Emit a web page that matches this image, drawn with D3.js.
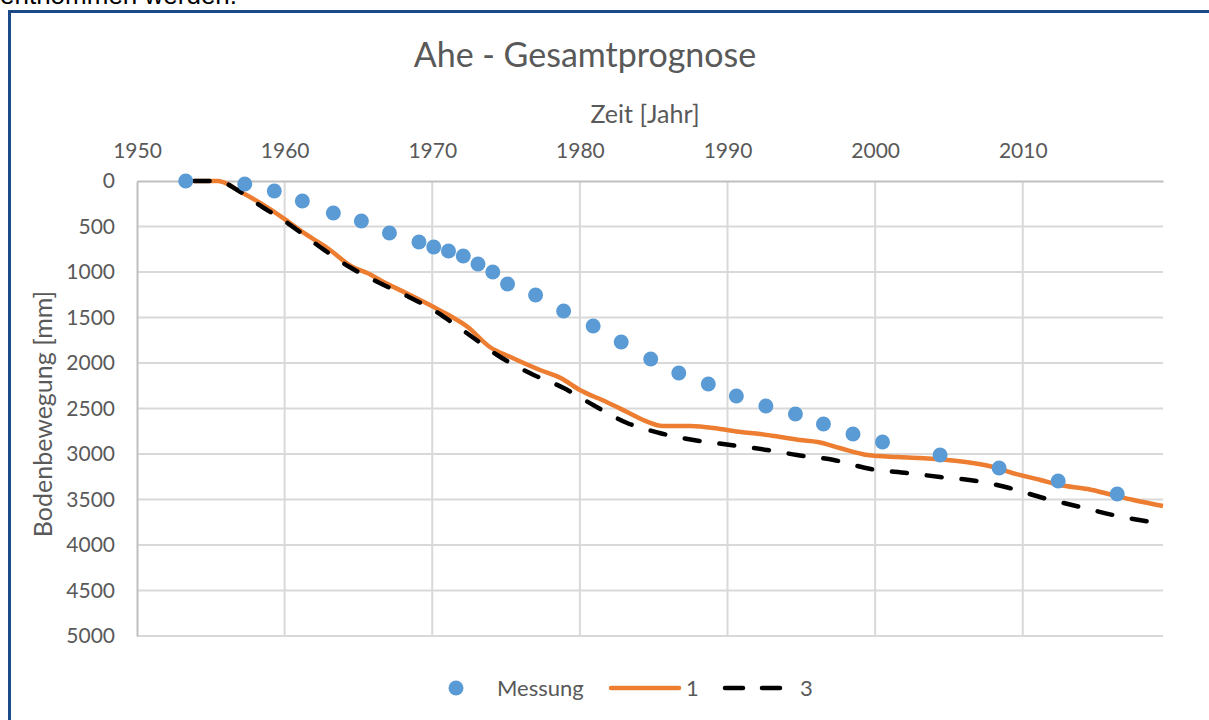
<!DOCTYPE html>
<html>
<head>
<meta charset="utf-8">
<script src="https://cdn.jsdelivr.net/npm/d3@7"></script>
<style>
  body { margin: 0; background: #fff; }
  svg { display: block; }
</style>
</head>
<body>
<svg id="chart" width="1209" height="720"></svg>
<script>
// Messung (measured points): year, settlement in mm
var messYears = [1953.3, 1957.3, 1959.3, 1961.2, 1963.3, 1965.2, 1967.1, 1969.1, 1970.1, 1971.1,
  1972.1, 1973.1, 1974.1, 1975.1, 1977.0, 1978.9, 1980.9, 1982.8, 1984.8, 1986.7,
  1988.7, 1990.6, 1992.6, 1994.6, 1996.5, 1998.5, 2000.5, 2004.4, 2008.4, 2012.4, 2016.4];
var messValues = [0, 33, 110, 220, 352, 440, 571, 670, 725, 769,
  824, 912, 1000, 1132, 1253, 1429, 1593, 1769, 1956, 2110,
  2231, 2363, 2473, 2560, 2670, 2780, 2868, 3011, 3154, 3297, 3440];

// Prognose 1 (orange)
var prog1Years = [1953.3, 1955.5, 1957.0, 1958.8, 1960.0, 1961.2, 1962.9, 1964.6, 1965.6, 1966.7,
  1968.5, 1970.1, 1971.1, 1972.4, 1973.9, 1975.3, 1977.3, 1978.7, 1980.0, 1981.8,
  1983.2, 1984.6, 1985.6, 1987.5, 1989.5, 1990.9, 1992.2, 1993.6, 1994.9, 1996.1,
  1997.6, 1999.5, 2001.5, 2003.0, 2004.9, 2006.6, 2008.0, 2009.3, 2011.2, 2012.5,
  2014.4, 2016.1, 2017.5, 2019.5];
var prog1Values = [0, 0, 118, 286, 418, 560, 736, 945, 1011, 1110,
  1253, 1385, 1472, 1604, 1824, 1934, 2077, 2165, 2297, 2428,
  2538, 2648, 2692, 2692, 2725, 2758, 2780, 2813, 2846, 2868,
  2934, 3011, 3033, 3044, 3066, 3099, 3143, 3209, 3286, 3341,
  3385, 3451, 3506, 3571];

// Prognose 3 (black dashed)
var prog3Years = [1953.9, 1955.5, 1956.8, 1958.3, 1960.2, 1962.4, 1964.4, 1966.3, 1968.3, 1970.3,
  1971.0, 1972.8, 1974.4, 1976.6, 1978.9, 1980.9, 1983.2, 1985.4, 1987.7, 1990.2,
  1992.7, 1994.7, 1997.2, 1999.7, 2002.2, 2004.4, 2006.9, 2009.1, 2011.4, 2013.9,
  2016.1, 2019.1, 2019.5];
var prog3Values = [0, 0, 99, 264, 462, 725, 945, 1110, 1264, 1440,
  1516, 1725, 1912, 2110, 2275, 2462, 2659, 2769, 2846, 2901,
  2956, 3011, 3066, 3165, 3209, 3253, 3297, 3374, 3484, 3582,
  3670, 3758, 3769];

var xTicks = [1950, 1960, 1970, 1980, 1990, 2000, 2010];
var yTicks = [0, 500, 1000, 1500, 2000, 2500, 3000, 3500, 4000, 4500, 5000];
var legendLabels = ['Messung', '1', '3'];

var font = 'Lato, "Open Sans", sans-serif';
var textColor = '#595959';

var svg = d3.select('#chart');

// cut-off text from the document above the chart frame
svg.append('text')
    .attr('x', 0)
    .attr('y', 4)
    .attr('font-family', 'Arial, "Liberation Sans", sans-serif')
    .attr('font-size', 26)
    .attr('fill', '#000')
    .text('entnommen werden.');

// blue frame
svg.append('path')
    .attr('d', 'M9.5,720 V11.5 H1209')
    .attr('fill', 'none')
    .attr('stroke', '#1c4a88')
    .attr('stroke-width', 3);

var x = d3.scaleLinear().domain([1950, 2019.5]).range([137, 1163]);
var y = d3.scaleLinear().domain([0, 5000]).range([181, 636]);

// gridlines
svg.append('g')
    .selectAll('line')
    .data(yTicks.slice(1))
    .enter()
    .append('line')
    .attr('x1', x(1950))
    .attr('x2', x(2019.5))
    .attr('y1', d => y(d))
    .attr('y2', d => y(d))
    .attr('stroke', '#d9d9d9')
    .attr('stroke-width', 2);

svg.append('g')
    .selectAll('line')
    .data(xTicks.slice(1))
    .enter()
    .append('line')
    .attr('x1', d => x(d))
    .attr('x2', d => x(d))
    .attr('y1', y(0))
    .attr('y2', y(5000))
    .attr('stroke', '#d9d9d9')
    .attr('stroke-width', 2);

// axes (top x axis, reversed y axis on the left)
var xAxis = svg.append('g')
    .attr('transform', 'translate(0,' + y(0) + ')')
    .call(d3.axisTop(x).tickValues(xTicks).tickFormat(d3.format('d')).tickSize(0).tickPadding(23));
var yAxis = svg.append('g')
    .attr('transform', 'translate(' + x(1950) + ',0)')
    .call(d3.axisLeft(y).tickValues(yTicks).tickFormat(d3.format('d')).tickSize(0).tickPadding(22));

[xAxis, yAxis].forEach(function(a) {
    a.select('.domain').attr('stroke', '#bfbfbf').attr('stroke-width', 2);
    a.selectAll('text')
        .attr('font-family', font)
        .attr('font-size', 21)
        .attr('fill', textColor);
});

// lines
var line = d3.line()
    .x(d => x(d[0]))
    .y(d => y(d[1]))
    .curve(d3.curveMonotoneX);

svg.append('path')
    .datum(d3.zip(prog1Years, prog1Values))
    .attr('fill', 'none')
    .attr('stroke', '#ed7d31')
    .attr('stroke-width', 4.5)
    .attr('stroke-linejoin', 'round')
    .attr('d', line);

svg.append('path')
    .datum(d3.zip(prog3Years, prog3Values))
    .attr('fill', 'none')
    .attr('stroke', '#000')
    .attr('stroke-width', 4.5)
    .attr('stroke-linecap', 'round')
    .attr('stroke-dasharray', '15,20')
    .attr('d', line);

// measured points
svg.append('g')
    .selectAll('circle')
    .data(d3.zip(messYears, messValues))
    .enter()
    .append('circle')
    .attr('cx', d => x(d[0]))
    .attr('cy', d => y(d[1]))
    .attr('r', 7.5)
    .attr('fill', '#5b9bd5');

// titles
svg.append('text')
    .attr('x', 585)
    .attr('y', 67)
    .attr('text-anchor', 'middle')
    .attr('font-family', font)
    .attr('font-size', 34)
    .attr('fill', textColor)
    .text('Ahe - Gesamtprognose');

svg.append('text')
    .attr('x', 645)
    .attr('y', 123)
    .attr('text-anchor', 'middle')
    .attr('font-family', font)
    .attr('font-size', 25)
    .attr('fill', textColor)
    .text('Zeit [Jahr]');

svg.append('text')
    .attr('transform', 'translate(52,414) rotate(-90)')
    .attr('text-anchor', 'middle')
    .attr('font-family', font)
    .attr('font-size', 25)
    .attr('fill', textColor)
    .text('Bodenbewegung [mm]');

// legend
var lg = svg.append('g').attr('transform', 'translate(0,688)');
lg.append('circle').attr('cx', 456).attr('cy', 0).attr('r', 7.5).attr('fill', '#5b9bd5');
lg.append('line').attr('x1', 611).attr('x2', 679).attr('y1', 0).attr('y2', 0)
    .attr('stroke', '#ed7d31').attr('stroke-width', 4.5).attr('stroke-linecap', 'round');
lg.append('line').attr('x1', 725).attr('x2', 780).attr('y1', 0).attr('y2', 0)
    .attr('stroke', '#000').attr('stroke-width', 4.5).attr('stroke-linecap', 'round')
    .attr('stroke-dasharray', '18,19');
lg.selectAll('text.leg')
    .data(legendLabels)
    .enter()
    .append('text')
    .attr('class', 'leg')
    .attr('x', (d, i) => [497, 686, 800][i])
    .attr('y', 8)
    .attr('font-family', font)
    .attr('font-size', 22)
    .attr('fill', textColor)
    .text(d => d);
</script>
</body>
</html>
